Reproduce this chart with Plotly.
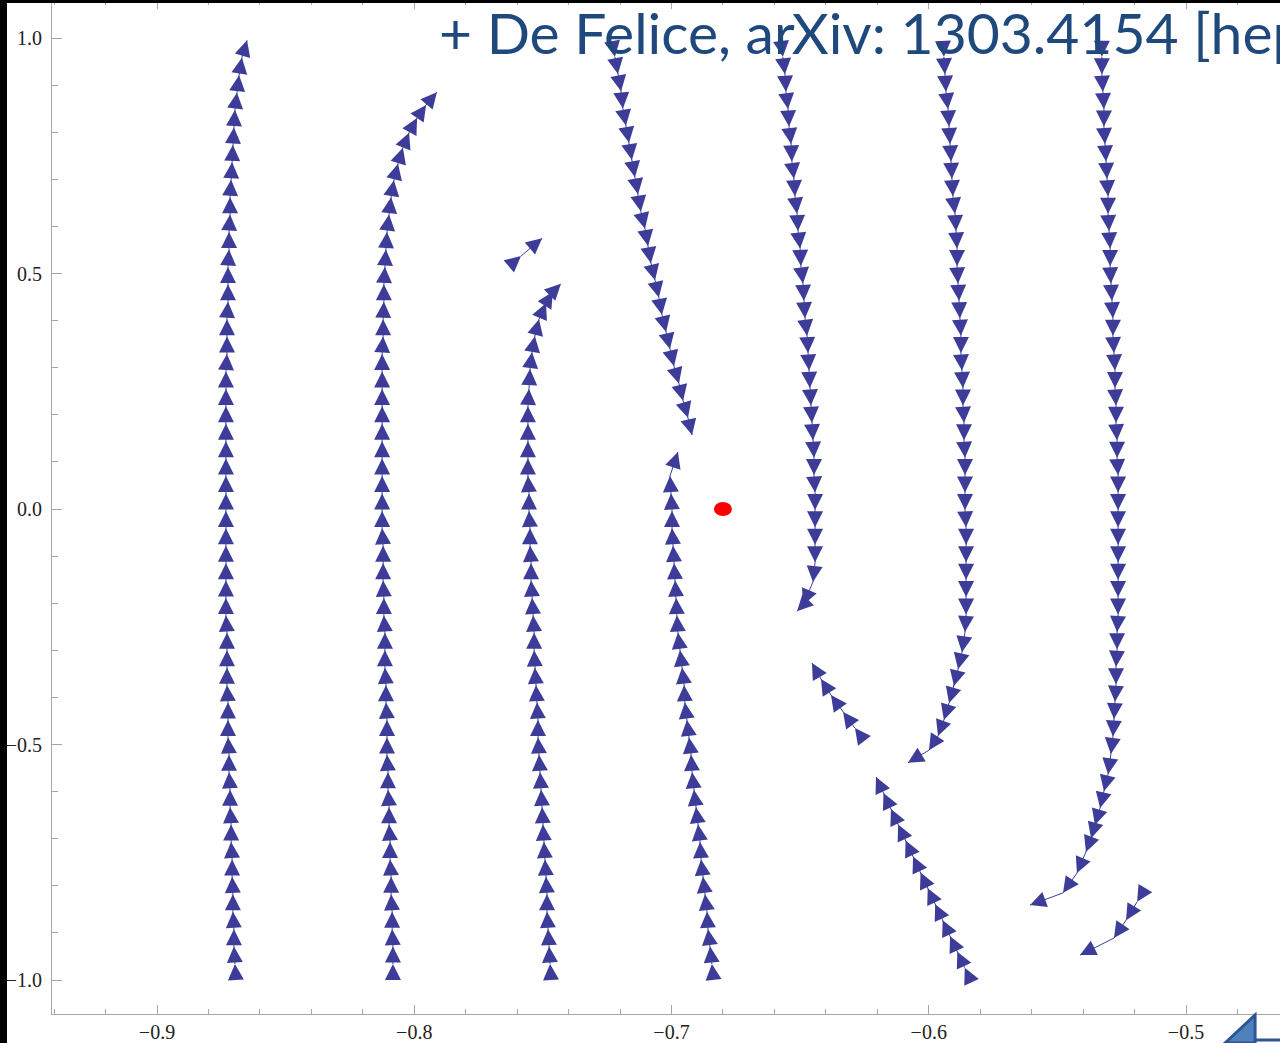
import math
import plotly.graph_objects as go

# ---------------- data ----------------
X_TICKS = [-0.9, -0.8, -0.7, -0.6, -0.5]
Y_TICKS = [-1.0, -0.5, 0.0, 0.5, 1.0]
X_RANGE = [-0.94082, -0.46346]
Y_RANGE = [-1.07219, 1.08068]

FP_X = [-0.680]
FP_Y = [0.0]

TITLE_TEXT = "+ De Felice, arXiv: 1303.4154 [hep-th]"

# streamline 1 (upward, leftmost)
s1_x = [-0.8697, -0.8701, -0.8701, -0.8705, -0.8705, -0.8708, -0.8708, -0.8712, -0.8712, -0.8716,
        -0.8716, -0.8720, -0.8720, -0.8724, -0.8724, -0.8724, -0.8728, -0.8728, -0.8728, -0.8728,
        -0.8732, -0.8732, -0.8732, -0.8732, -0.8732, -0.8732, -0.8732, -0.8732, -0.8732, -0.8732,
        -0.8732, -0.8732, -0.8732, -0.8732, -0.8732,
        -0.8728, -0.8728, -0.8728, -0.8724, -0.8724, -0.8724, -0.8720, -0.8720, -0.8716, -0.8716,
        -0.8712, -0.8708, -0.8705, -0.8701, -0.8697, -0.8689, -0.8681, -0.8670, -0.8650]
s1_y = [-0.966, -0.929, -0.892, -0.855, -0.818, -0.781, -0.744, -0.707, -0.670, -0.633,
        -0.596, -0.559, -0.522, -0.485, -0.448, -0.411, -0.374, -0.337, -0.300, -0.263,
        -0.226, -0.189, -0.152, -0.115, -0.078, -0.041, -0.004, 0.033, 0.070, 0.107,
        0.144, 0.181, 0.218, 0.255, 0.292, 0.329, 0.366, 0.403, 0.440, 0.477,
        0.514, 0.551, 0.588, 0.625, 0.662, 0.699, 0.736, 0.773, 0.810, 0.847,
        0.884, 0.921, 0.958, 0.995]

# streamline 2 (upward, bends right at top)
s2_x = [-0.8083, -0.8083, -0.8086, -0.8086, -0.8090, -0.8090, -0.8094, -0.8094, -0.8098, -0.8098,
        -0.8102, -0.8102, -0.8106, -0.8106, -0.8106, -0.8110, -0.8110, -0.8114, -0.8114, -0.8114,
        -0.8118, -0.8118, -0.8121, -0.8121, -0.8121,
        -0.8125, -0.8125, -0.8125, -0.8125, -0.8125, -0.8125, -0.8125, -0.8125, -0.8125, -0.8125, -0.8125,
        -0.8121, -0.8121, -0.8118, -0.8118, -0.8114, -0.8110, -0.8106, -0.8098,
        -0.8090, -0.8079, -0.8063, -0.8044, -0.8020, -0.7989, -0.7954, -0.7912]
s2_y = [-0.966, -0.929, -0.892, -0.855, -0.818, -0.781, -0.744, -0.707, -0.670, -0.633,
        -0.596, -0.559, -0.522, -0.485, -0.448, -0.411, -0.374, -0.337, -0.300, -0.263,
        -0.226, -0.189, -0.152, -0.115, -0.078, -0.041, -0.004, 0.033, 0.070, 0.107,
        0.144, 0.181, 0.218, 0.255, 0.292, 0.329, 0.366, 0.403, 0.440, 0.477,
        0.514, 0.551, 0.588, 0.625,
        0.662, 0.698, 0.733, 0.767, 0.799, 0.830, 0.858, 0.885]

# streamline 3 (upward, bends right at top)
s3_x = [-0.7472, -0.7476, -0.7480, -0.7484, -0.7484, -0.7488, -0.7492, -0.7496, -0.7500, -0.7503,
        -0.7507, -0.7511, -0.7515, -0.7519, -0.7519, -0.7523, -0.7527, -0.7531, -0.7534, -0.7534,
        -0.7538, -0.7542, -0.7546, -0.7546, -0.7550, -0.7550, -0.7554, -0.7554, -0.7558, -0.7558,
        -0.7558, -0.7558, -0.7558, -0.7554,
        -0.7550, -0.7542, -0.7531, -0.7515, -0.7488, -0.7461, -0.7430]
s3_y = [-0.966, -0.929, -0.892, -0.855, -0.818, -0.781, -0.744, -0.707, -0.670, -0.633,
        -0.596, -0.559, -0.522, -0.485, -0.448, -0.411, -0.374, -0.337, -0.300, -0.263,
        -0.226, -0.189, -0.152, -0.115, -0.078, -0.041, -0.004, 0.033, 0.070, 0.107,
        0.144, 0.181, 0.218, 0.255,
        0.297, 0.333, 0.367, 0.403, 0.437, 0.461, 0.478]

# streamline 4 (upward, left of the fixed point)
s4_x = [-0.6843, -0.6850, -0.6858, -0.6862, -0.6870, -0.6878, -0.6885, -0.6889, -0.6897, -0.6905,
        -0.6913, -0.6920, -0.6924, -0.6932, -0.6940, -0.6948, -0.6951, -0.6959, -0.6967, -0.6975,
        -0.6979, -0.6982, -0.6986, -0.6990, -0.6994, -0.6998, -0.6998, -0.7002, -0.7006, -0.6975]
s4_y = [-0.966, -0.929, -0.892, -0.855, -0.818, -0.781, -0.744, -0.707, -0.670, -0.633,
        -0.596, -0.559, -0.522, -0.485, -0.448, -0.411, -0.374, -0.337, -0.300, -0.263,
        -0.226, -0.189, -0.152, -0.115, -0.078, -0.041, -0.004, 0.033, 0.070, 0.121]

# streamline 5 (downward, slanted, from the top)
s5_x = [-0.7220, -0.7208, -0.7196, -0.7189, -0.7177, -0.7165, -0.7154, -0.7142, -0.7130, -0.7119,
        -0.7103, -0.7091, -0.7080, -0.7064, -0.7049, -0.7037, -0.7021, -0.7006, -0.6990, -0.6971,
        -0.6955, -0.6936, -0.6920]
s5_y = [0.960, 0.9235, 0.887, 0.8505, 0.814, 0.7775, 0.741, 0.7045, 0.668, 0.6315,
        0.595, 0.5585, 0.522, 0.4855, 0.449, 0.4125, 0.376, 0.3395, 0.303, 0.2665,
        0.230, 0.1935, 0.157]

# streamline 6 (downward, right of the fixed point)
s6_x = [-0.6567, -0.6559, -0.6555, -0.6547, -0.6543, -0.6535, -0.6532, -0.6524, -0.6520, -0.6512,
        -0.6508, -0.6500, -0.6497, -0.6489, -0.6485, -0.6481, -0.6473, -0.6469, -0.6465, -0.6462,
        -0.6458, -0.6454, -0.6450, -0.6446, -0.6446, -0.6442, -0.6442, -0.6442, -0.6442, -0.6442,
        -0.6450, -0.6489, -0.6512]
s6_y = [0.960, 0.923, 0.886, 0.849, 0.812, 0.775, 0.738, 0.701, 0.664, 0.627,
        0.590, 0.553, 0.516, 0.479, 0.442, 0.405, 0.368, 0.331, 0.294, 0.257,
        0.220, 0.183, 0.146, 0.109, 0.072, 0.035, -0.002, -0.039, -0.076, -0.113,
        -0.155, -0.204, -0.217]

# streamline 7 (downward, curls left at the bottom)
s7_x = [-0.5941, -0.5937, -0.5933, -0.5925, -0.5921, -0.5917, -0.5913, -0.5910, -0.5906, -0.5898,
        -0.5894, -0.5890, -0.5890, -0.5886, -0.5882, -0.5879, -0.5875, -0.5875, -0.5871, -0.5867,
        -0.5867, -0.5863, -0.5863, -0.5859, -0.5859, -0.5859, -0.5859, -0.5855, -0.5855, -0.5855,
        -0.5855, -0.5855, -0.5855, -0.5859,
        -0.5871, -0.5886, -0.5902, -0.5921, -0.5941, -0.5964, -0.5999, -0.6081]
s7_y = [0.960, 0.923, 0.886, 0.849, 0.812, 0.775, 0.738, 0.701, 0.664, 0.627,
        0.590, 0.553, 0.516, 0.479, 0.442, 0.405, 0.368, 0.331, 0.294, 0.257,
        0.220, 0.183, 0.146, 0.109, 0.072, 0.035, -0.002, -0.039, -0.076, -0.113,
        -0.150, -0.187, -0.224, -0.261,
        -0.304, -0.340, -0.376, -0.412, -0.448, -0.482, -0.512, -0.539]

# streamline 8 (downward, rightmost, curls left at the bottom)
s8_x = [-0.5327, -0.5327, -0.5323, -0.5319, -0.5319, -0.5315, -0.5311, -0.5307, -0.5303, -0.5303,
        -0.5299, -0.5295, -0.5295, -0.5292, -0.5288, -0.5284, -0.5284, -0.5280, -0.5276, -0.5276,
        -0.5272, -0.5272, -0.5268, -0.5268, -0.5264, -0.5264, -0.5264, -0.5264, -0.5264, -0.5264,
        -0.5264, -0.5264, -0.5264, -0.5268, -0.5268, -0.5272, -0.5272, -0.5276, -0.5280, -0.5284,
        -0.5292,
        -0.5303, -0.5319, -0.5334, -0.5354, -0.5369, -0.5389, -0.5424, -0.5478, -0.5606]
s8_y = [0.960, 0.923, 0.886, 0.849, 0.812, 0.775, 0.738, 0.701, 0.664, 0.627,
        0.590, 0.553, 0.516, 0.479, 0.442, 0.405, 0.368, 0.331, 0.294, 0.257,
        0.220, 0.183, 0.146, 0.109, 0.072, 0.035, -0.002, -0.039, -0.076, -0.113,
        -0.150, -0.187, -0.224, -0.261, -0.298, -0.335, -0.372, -0.409, -0.446, -0.483,
        -0.520,
        -0.563, -0.599, -0.635, -0.671, -0.699, -0.728, -0.773, -0.815, -0.841]

# short fragments
s9_x = [-0.7585, -0.7503]
s9_y = [0.537, 0.575]
s10_x = [-0.6287, -0.6333, -0.6380, -0.6419, -0.6454]
s10_y = [-0.465, -0.431, -0.395, -0.361, -0.327]
s11_x = [-0.5860, -0.5889, -0.5917, -0.5946, -0.5975, -0.6004, -0.6032, -0.6061, -0.6090, -0.6119,
         -0.6147, -0.6176, -0.6205]
s11_y = [-0.974, -0.940, -0.907, -0.873, -0.839, -0.805, -0.772, -0.738, -0.704, -0.670,
         -0.637, -0.603, -0.569]
s12_x = [-0.5190, -0.5233, -0.5280, -0.5412]
s12_y = [-0.834, -0.873, -0.911, -0.947]

STREAMS = [(s1_x, s1_y), (s2_x, s2_y), (s3_x, s3_y), (s4_x, s4_y), (s5_x, s5_y),
           (s6_x, s6_y), (s7_x, s7_y), (s8_x, s8_y), (s9_x, s9_y), (s10_x, s10_y),
           (s11_x, s11_y), (s12_x, s12_y)]

# ---------------- style / geometry ----------------
W, H = 1280, 1043
M_L, M_R, M_T, M_B = 52, 0, 0, 29
PLOT_W = W - M_L - M_R
PLOT_H = H - M_T - M_B
KX = PLOT_W / (X_RANGE[1] - X_RANGE[0])
KY = PLOT_H / (Y_RANGE[1] - Y_RANGE[0])

ARROW_COLOR = "rgb(61,61,153)"
AXIS_COLOR = "#a6a6a6"
LABEL_FONT = dict(family="Liberation Serif, Times New Roman, serif", size=20, color="#222222")


def arrow_angles(xs, ys):
    out = []
    for i in range(len(xs)):
        a, b = (i - 1, i) if i > 0 else (0, 1)
        dx = (xs[b] - xs[a]) * KX
        dy = (ys[b] - ys[a]) * KY
        out.append(math.degrees(math.atan2(dx, dy)))
    return out


fig = go.Figure()
for xs, ys in STREAMS:
    fig.add_trace(go.Scatter(
        x=xs, y=ys, mode="lines+markers",
        line=dict(color=ARROW_COLOR, width=1),
        marker=dict(symbol="arrow-up", size=16, color=ARROW_COLOR,
                    angle=arrow_angles(xs, ys), line=dict(width=0)),
        hoverinfo="skip", showlegend=False,
    ))

fig.update_layout(
    width=W, height=H,
    margin=dict(l=M_L, r=M_R, t=M_T, b=M_B, pad=0),
    paper_bgcolor="white", plot_bgcolor="white",
    showlegend=False,
    xaxis=dict(
        range=X_RANGE, showgrid=False, zeroline=False,
        showline=True, linecolor=AXIS_COLOR, linewidth=1, mirror="ticks",
        ticks="inside", ticklen=9, tickcolor=AXIS_COLOR, tickwidth=1,
        tickmode="array", tickvals=X_TICKS, tickformat=".1f",
        tickfont=LABEL_FONT, ticklabelstandoff=0,
        minor=dict(ticks="inside", ticklen=5, tickcolor=AXIS_COLOR, tick0=-0.9, dtick=0.02,
                   showgrid=False),
    ),
    yaxis=dict(
        range=Y_RANGE, showgrid=False, zeroline=False,
        showline=True, linecolor=AXIS_COLOR, linewidth=1,
        ticks="inside", ticklen=10, tickcolor=AXIS_COLOR, tickwidth=1,
        tickmode="array", tickvals=Y_TICKS, tickformat=".1f",
        tickfont=LABEL_FONT, ticklabelstandoff=5,
        minor=dict(ticks="inside", ticklen=6, tickcolor=AXIS_COLOR, tick0=0, dtick=0.1,
                   showgrid=False),
    ),
)

# fixed point (red ellipse anchored at the data point)
fig.add_shape(type="circle", xref="x", yref="y", xsizemode="pixel", ysizemode="pixel",
              xanchor=FP_X[0], yanchor=FP_Y[0], x0=-9, x1=9, y0=-7, y1=7,
              fillcolor="#ff0000", line=dict(width=0), layer="above")

# slide frame remnants: black strips on the left and top edges
fig.add_shape(type="rect", xref="paper", yref="paper", x0=-0.06, x1=-0.03664, y0=-0.06, y1=1.06,
              fillcolor="black", line=dict(width=0), layer="above")
fig.add_shape(type="rect", xref="paper", yref="paper", x0=-0.06, x1=1.06, y0=0.99704, y1=1.06,
              fillcolor="black", line=dict(width=0), layer="above")

# slide decoration in the bottom-right corner
fig.add_shape(type="path", xref="paper", yref="paper",
              path="M 0.9552,-0.0286 L 0.9797,-0.0010 L 0.9797,-0.0286 Z",
              fillcolor="#4F81BD", line=dict(color="#2F5597", width=3), layer="above")
fig.add_shape(type="line", xref="paper", yref="paper", x0=0.9797, x1=1.01, y0=-0.0256, y1=-0.0256,
              line=dict(color="#2F5597", width=3), layer="above")

fig.add_annotation(text=TITLE_TEXT, xref="paper", yref="paper", x=0.3135, y=1.0,
                   xanchor="left", yanchor="top", showarrow=False, yshift=4,
                   font=dict(family="Lato, Carlito, Calibri, sans-serif", size=57, color="#1F497D"))

fig.write_html("out.html",
               config={"displayModeBar": False},
               post_script="document.body.style.margin='0px';document.body.style.overflow='hidden';")
